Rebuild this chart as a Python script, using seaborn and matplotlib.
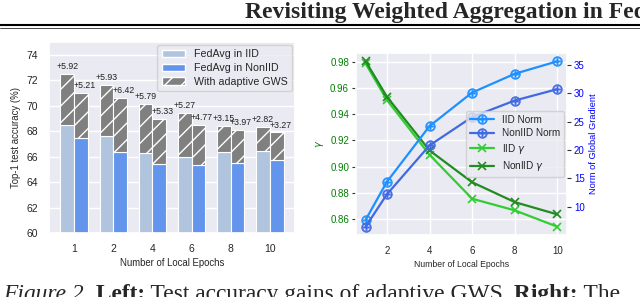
import numpy as np
import pandas as pd
import seaborn as sns
import matplotlib.pyplot as plt
from matplotlib.patches import Patch
from matplotlib.lines import Line2D

epochs = [1, 2, 4, 6, 8, 10]
epoch_labels = ["1", "2", "4", "6", "8", "10"]

# left panel: FedAvg accuracy and relative gain (%) of adaptive GWS
acc_iid = [68.45, 67.6, 66.3, 65.95, 66.35, 66.45]
acc_noniid = [67.5, 66.35, 65.45, 65.35, 65.5, 65.75]
gain_iid = [5.92, 5.93, 5.79, 5.27, 3.15, 2.82]
gain_noniid = [5.21, 6.42, 5.33, 4.77, 3.97, 3.27]

# right panel: gamma and norm of global gradient
gamma_iid = [0.9788, 0.9509, 0.909, 0.8754, 0.8665, 0.854]
gamma_noniid = [0.9805, 0.9534, 0.9123, 0.888, 0.8728, 0.8634]
norm_iid = [7.7, 14.4, 24.2, 30.1, 33.4, 35.6]
norm_noniid = [6.5, 12.2, 20.8, 25.8, 28.7, 30.7]

sns.set_theme(style="darkgrid")
plt.rcParams["font.family"] = ["Liberation Sans", "DejaVu Sans"]

fig = plt.figure(figsize=(6.4, 2.97), dpi=100)
W, H = 640, 297

# ---------- left panel ----------
ax = fig.add_axes([49 / W, (H - 233) / H, 246 / W, 191 / H])
df = pd.DataFrame({
    "epoch": epoch_labels * 2,
    "setting": ["FedAvg in IID"] * 6 + ["FedAvg in NonIID"] * 6,
    "acc": acc_iid + acc_noniid,
})
sns.barplot(data=df, x="epoch", y="acc", hue="setting",
            palette=["lightsteelblue", "cornflowerblue"], width=0.7,
            saturation=1, edgecolor="white", linewidth=0.8,
            legend=False, ax=ax)

pos = np.arange(len(epochs))
bw = 0.35
base_i = np.array(acc_iid)
base_n = np.array(acc_noniid)
top_i = base_i * (1 + np.array(gain_iid) / 100)
top_n = base_n * (1 + np.array(gain_noniid) / 100)
ax.bar(pos - bw / 2, top_i - base_i, bottom=base_i, width=bw, color="gray",
       hatch="//", edgecolor="white", linewidth=0.8)
ax.bar(pos + bw / 2, top_n - base_n, bottom=base_n, width=bw, color="gray",
       hatch="//", edgecolor="white", linewidth=0.8)
for i in range(len(epochs)):
    ax.annotate(f"+{gain_iid[i]:.2f}", (pos[i] - bw / 2, top_i[i]),
                xytext=(0, 2), textcoords="offset points",
                ha="center", va="bottom", fontsize=6.3, color="#222222")
    ax.annotate(f"+{gain_noniid[i]:.2f}", (pos[i] + bw / 2, top_n[i]),
                xytext=(2.5, 2), textcoords="offset points",
                ha="center", va="bottom", fontsize=6.3, color="#222222")

ax.set_ylim(60, 75)
ax.set_yticks(np.arange(60, 75, 2))
ax.set_xlim(-0.64, 5.64)
ax.tick_params(labelsize=7.5, pad=2)
ax.set_xlabel("Number of Local Epochs", fontsize=6.9, labelpad=3)
ax.set_ylabel("Top-1 test accuracy (%)", fontsize=6.9, labelpad=4)
handles = [
    Patch(facecolor="lightsteelblue", edgecolor="white", label="FedAvg in IID"),
    Patch(facecolor="cornflowerblue", edgecolor="white", label="FedAvg in NonIID"),
    Patch(facecolor="gray", edgecolor="white", hatch="//", label="With adaptive GWS"),
]
ax.legend(handles=handles, loc="upper right", fontsize=7.7,
          handlelength=2.2, borderaxespad=0.3, labelspacing=0.35)

# ---------- right panel ----------
ax1 = fig.add_axes([356 / W, (H - 235) / H, 211 / W, 182 / H])
ax2 = ax1.twinx()
sns.lineplot(x=epochs, y=gamma_iid, color="limegreen", marker="x", ms=6,
             mec="limegreen", mew=1.2, lw=1.6, label=r"IID $\gamma$",
             legend=False, ax=ax1)
sns.lineplot(x=epochs, y=gamma_noniid, color="forestgreen", marker="x", ms=6,
             mec="forestgreen", mew=1.2, lw=1.6, label=r"NonIID $\gamma$",
             legend=False, ax=ax1)
sns.lineplot(x=epochs, y=norm_iid, color="dodgerblue", marker=r"$\oplus$",
             ms=7, mec="dodgerblue", mew=0.4, lw=1.6, label="IID Norm",
             legend=False, ax=ax2)
sns.lineplot(x=epochs, y=norm_noniid, color="royalblue", marker=r"$\oplus$",
             ms=7, mec="royalblue", mew=0.4, lw=1.6, label="NonIID Norm",
             legend=False, ax=ax2)

ax1.set_xticks([2, 4, 6, 8, 10])
ax1.set_yticks(np.arange(0.86, 0.99, 0.02))
ax2.set_yticks(np.arange(10, 36, 5))
ax1.set_yticklabels([f"{v:.2f}" for v in np.arange(0.86, 0.99, 0.02)])
ax2.grid(False)
for s in ax2.spines.values():
    s.set_visible(False)
ax1.tick_params(axis="x", labelsize=7, pad=2)
ax1.tick_params(axis="y", labelsize=7, labelcolor="green", left=True,
                length=3, width=0.8, color="#333333", pad=2)
ax2.tick_params(axis="y", labelsize=7, labelcolor="blue", right=True,
                length=3, width=0.8, color="#333333", pad=2)
ax1.set_xlabel("Number of Local Epochs", fontsize=6.2, labelpad=3)
ax1.set_ylabel(r"$\gamma$", color="green", fontsize=7, labelpad=3)
ax2.set_ylabel("Norm of Global Gradient", color="blue", fontsize=6.7,
               labelpad=3)

h1, l1 = ax1.get_legend_handles_labels()
h2, l2 = ax2.get_legend_handles_labels()
ax2.legend(h2 + h1, l2 + l1, loc="center right", fontsize=7.2,
           handlelength=2.4, borderaxespad=0.3, labelspacing=0.35,
           facecolor="#EAEAF2", framealpha=0.8)

# ---------- page header and caption ----------
fig.text(245 / W, (H - 18) / H, "Revisiting Weighted Aggregation in Federated",
         family="Liberation Serif", weight="bold", fontsize=17,
         va="baseline", ha="left")
fig.add_artist(Line2D([0, 1], [(H - 25) / H] * 2, color="black", lw=1.5))
fig.add_artist(Line2D([0, 1], [(H - 27.5) / H] * 2, color="black", lw=0.5))

caption = [
    ("Figure 2.", "italic", "normal"),
    (" Left:", "normal", "bold"),
    (" Test accuracy gains of adaptive GWS.", "normal", "normal"),
    (" Right:", "normal", "bold"),
    (" The", "normal", "normal"),
]
fig.canvas.draw()
renderer = fig.canvas.get_renderer()
x = 3 / W
for txt, style, weight in caption:
    t = fig.text(x, (H - 300) / H, txt, family="Liberation Serif",
                 style=style, weight=weight, fontsize=16.9,
                 va="baseline", ha="left")
    x += t.get_window_extent(renderer).width / W

fig.savefig("out.png", dpi=100)
